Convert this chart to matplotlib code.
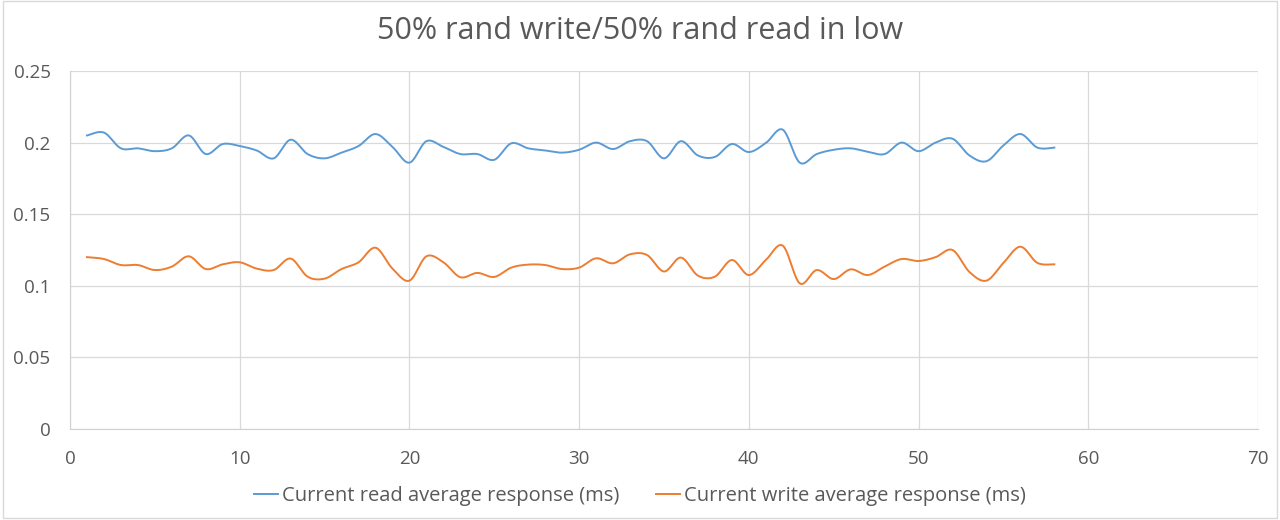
import numpy as np
import matplotlib.pyplot as plt
from matplotlib.patches import Rectangle

x = list(range(1, 59))
read_ms = [0.205, 0.207, 0.196, 0.196, 0.194, 0.196, 0.205, 0.192, 0.199, 0.1976,
           0.1945, 0.189, 0.202, 0.192, 0.189, 0.193, 0.1976, 0.206, 0.197, 0.186,
           0.201, 0.197, 0.192, 0.192, 0.188, 0.1995, 0.196, 0.1945, 0.193, 0.195,
           0.200, 0.1955, 0.201, 0.201, 0.189, 0.201, 0.191, 0.190, 0.199, 0.1934,
           0.1997, 0.209, 0.186, 0.192, 0.195, 0.196, 0.1936, 0.192, 0.200, 0.194,
           0.200, 0.2027, 0.191, 0.187, 0.198, 0.206, 0.1965, 0.1965]
write_ms = [0.120, 0.1187, 0.1145, 0.1145, 0.111, 0.1134, 0.1206, 0.1117, 0.115, 0.1164,
            0.112, 0.111, 0.119, 0.1064, 0.105, 0.1117, 0.1164, 0.1266, 0.112, 0.1036,
            0.1206, 0.1164, 0.106, 0.109, 0.1062, 0.1127, 0.1148, 0.1145, 0.1117, 0.1127,
            0.1192, 0.1157, 0.122, 0.1215, 0.110, 0.1197, 0.1071, 0.1064, 0.118, 0.1075,
            0.118, 0.128, 0.1017, 0.111, 0.1047, 0.1115, 0.1075, 0.1134, 0.1187, 0.1173,
            0.120, 0.125, 0.1096, 0.1036, 0.116, 0.1273, 0.116, 0.115]
labels = ['Current read average response (ms)', 'Current write average response (ms)']
colors = ['#5B9BD5', '#ED7D31']


def smooth(xs, ys, n=20):
    # Catmull-Rom curve through the points, like Excel's smoothed line
    xs = np.asarray(xs, float)
    ys = np.asarray(ys, float)
    px = np.concatenate([[xs[0]], xs, [xs[-1]]])
    py = np.concatenate([[ys[0]], ys, [ys[-1]]])
    outx, outy = [], []
    t = np.linspace(0, 1, n, endpoint=False)
    for i in range(1, len(px) - 2):
        for arr, out in ((px, outx), (py, outy)):
            p0, p1, p2, p3 = arr[i - 1], arr[i], arr[i + 1], arr[i + 2]
            out.extend(0.5 * (2 * p1 + (-p0 + p2) * t
                              + (2 * p0 - 5 * p1 + 4 * p2 - p3) * t ** 2
                              + (-p0 + 3 * p1 - 3 * p2 + p3) * t ** 3))
    outx.append(xs[-1])
    outy.append(ys[-1])
    return outx, outy


plt.rcParams['font.family'] = ['Open Sans', 'DejaVu Sans']
fig = plt.figure(figsize=(12.8, 5.2), dpi=100)
# light frame round the whole chart
fig.patches.append(Rectangle((0.002, 0.004), 0.996, 0.994, transform=fig.transFigure,
                             fill=False, edgecolor='#D9D9D9', lw=1))
ax = fig.add_axes([70 / 1280, 1 - 429 / 520, (1258 - 70) / 1280, (429 - 71) / 520])

for ys, lab, c in zip([read_ms, write_ms], labels, colors):
    sx, sy = smooth(x, ys)
    ax.plot(sx, sy, color=c, lw=1.4, label=lab)

ax.set_xlim(0, 70)
ax.set_ylim(0, 0.25)
ax.set_xticks(range(0, 71, 10))
ax.set_yticks([0, 0.05, 0.1, 0.15, 0.2, 0.25])
ax.set_yticklabels(['0', '0.05', '0.1', '0.15', '0.2', '0.25'])
ax.grid(True, color='#D9D9D9', lw=0.9)
ax.set_axisbelow(True)
for s in ['top', 'right']:
    ax.spines[s].set_visible(False)
for s in ['left', 'bottom']:
    ax.spines[s].set_color('#D0D0D0')
ax.tick_params(length=0, colors='#595959', labelsize=13.5)
ax.tick_params(axis='x', pad=15)
ax.tick_params(axis='y', pad=14)

fig.text(0.5, 0.94, '50% rand write/50% rand read in low', ha='center', va='center',
         fontsize=22, color='#595959')
fig.legend(loc='center', bbox_to_anchor=(0.5, 0.047), ncol=2, frameon=False,
           fontsize=14.5, labelcolor='#595959', handlelength=1.2, handletextpad=0.2,
           columnspacing=1.8)

fig.savefig('out.png')
